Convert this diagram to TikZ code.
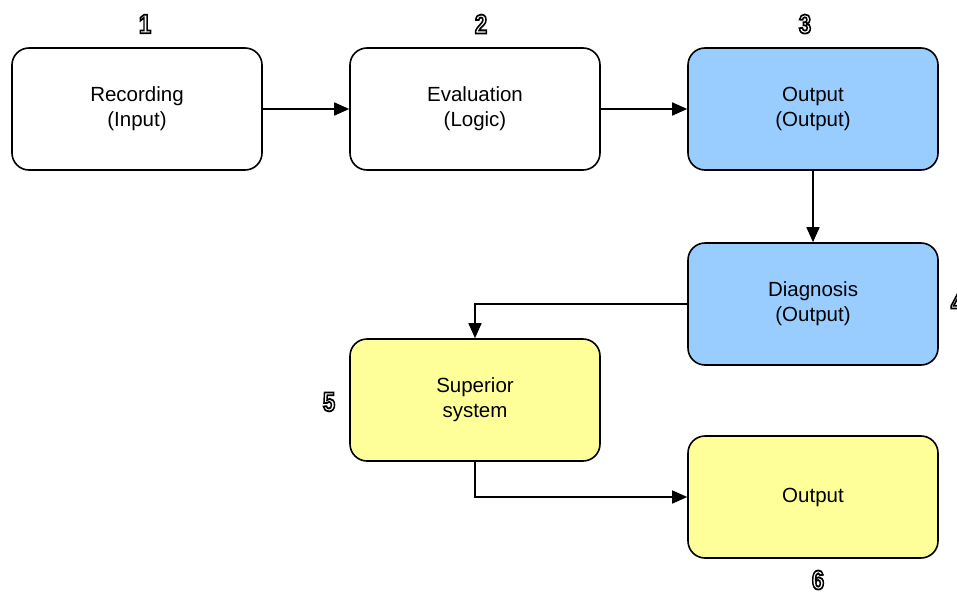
\documentclass[tikz,border=0pt]{standalone}
\usepackage{fontspec}
\setmainfont{Liberation Sans}
\usetikzlibrary{arrows.meta}
\newcommand{\outlnum}[1]{\textcolor{white}{\special{pdf:literal 0 G 2 Tr 1.8 w}#1\special{pdf:literal 0 Tr}}}
\definecolor{boxblue}{HTML}{99CCFF}
\definecolor{boxyellow}{HTML}{FFFF99}
\tikzset{
  stagebox/.style={draw=black, line width=1.6pt, rounded corners=17pt, minimum width=250pt, minimum height=122pt, align=center, font=\fontsize{20.5}{25}\selectfont, inner sep=0pt},
  numlabel/.style={font=\fontsize{27}{27}\selectfont\bfseries, inner sep=0pt, xscale=0.82},
  arr/.style={line width=1.6pt, -{Triangle[length=15pt,width=13pt]}},
}
\begin{document}
\begin{tikzpicture}[x=1pt,y=-1pt]
\useasboundingbox (0,0) rectangle (957,594);
\node[stagebox, fill=white] (b1) at (137,109) {Recording\\(Input)};
\node[stagebox, fill=white] (b2) at (475,109) {Evaluation\\(Logic)};
\node[stagebox, fill=boxblue] (b3) at (813,109) {Output\\(Output)};
\node[stagebox, fill=boxblue] (b4) at (813,304) {Diagnosis\\(Output)};
\node[stagebox, fill=boxyellow] (b5) at (475,400) {Superior\\system};
\node[stagebox, fill=boxyellow] (b6) at (813,497) {Output};
\node[numlabel] (n1) at (145,24) {\outlnum{1}};
\node[numlabel] (n2) at (481,24) {\outlnum{2}};
\node[numlabel] (n3) at (805,24) {\outlnum{3}};
\node[numlabel] (n4) at (957,303) {\outlnum{4}};
\node[numlabel] (n5) at (329,402) {\outlnum{5}};
\node[numlabel] (n6) at (818,580) {\outlnum{6}};
\draw[arr] (b1.east) -- (b2.west);
\draw[arr] (b2.east) -- (b3.west);
\draw[arr] (b3.south) -- (b4.north);
\draw[arr] (b4.west) -| (b5.north);
\draw[arr] (b5.south) |- (b6.west);
\end{tikzpicture}
\end{document}
